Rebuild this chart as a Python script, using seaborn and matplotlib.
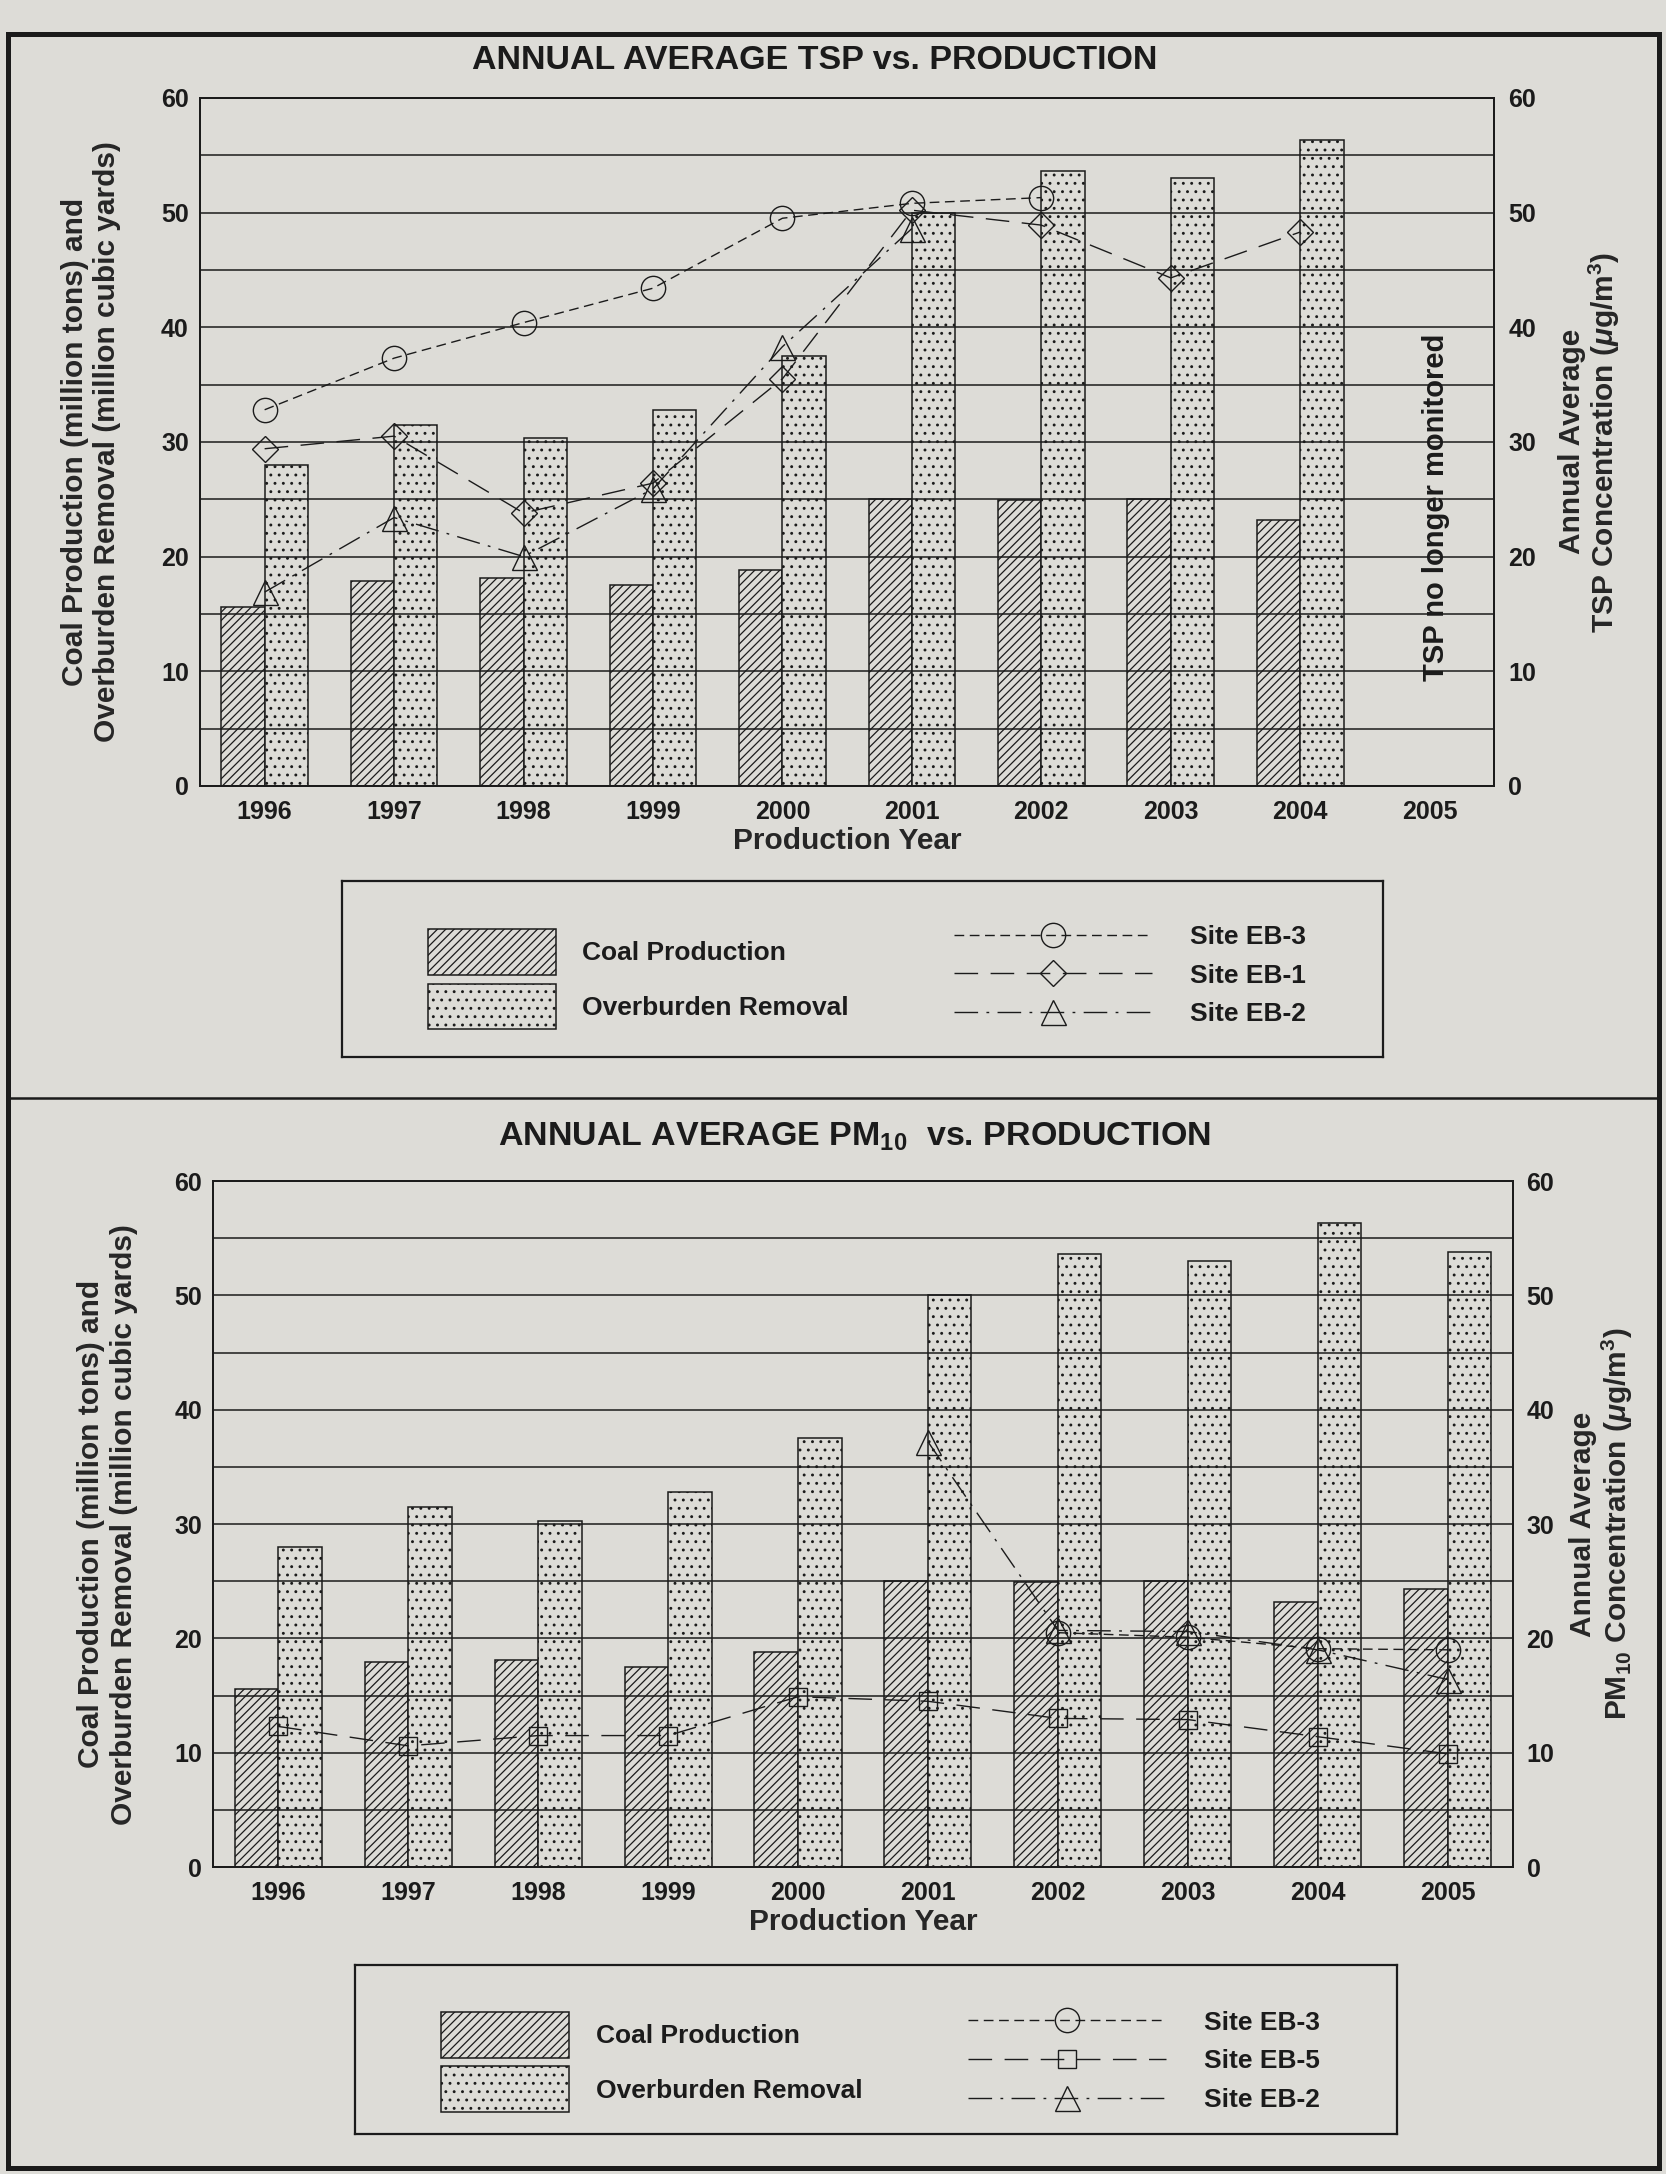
import numpy as np
import pandas as pd
import matplotlib
matplotlib.use("Agg")
import matplotlib.pyplot as plt
from matplotlib.patches import Patch, Rectangle
from matplotlib.lines import Line2D
from matplotlib.ticker import MultipleLocator
import seaborn as sns

nan = np.nan

years = ["1996", "1997", "1998", "1999", "2000", "2001", "2002", "2003", "2004", "2005"]

# Production: coal (million tons) and overburden removal (million cubic yards)
coal_production = [15.6, 17.9, 18.1, 17.5, 18.8, 25.0, 24.9, 25.0, 23.2, 24.3]
overburden_removal = [28.0, 31.5, 30.3, 32.8, 37.5, 50.0, 53.6, 53.0, 56.3, 53.8]
tsp_production_years = ["1996", "1997", "1998", "1999", "2000", "2001", "2002", "2003", "2004"]

# Annual average TSP concentration (ug/m3)
tsp_eb3 = [32.8, 37.3, 40.4, 43.4, 49.5, 50.8, 51.3, nan, nan, nan]
tsp_eb1 = [29.4, 30.5, 23.8, 26.4, 35.5, 50.2, 48.9, 44.3, 48.3, nan]
tsp_eb2 = [16.9, 23.4, 20.0, 25.9, 38.3, 48.6, nan, nan, nan, nan]

# Annual average PM10 concentration (ug/m3)
pm10_eb3 = [nan, nan, nan, nan, nan, nan, 20.5, 20.1, 19.1, 19.0]
pm10_eb5 = [12.3, 10.6, 11.5, 11.5, 14.9, 14.5, 13.0, 12.9, 11.4, 9.9]
pm10_eb2 = [nan, nan, nan, nan, nan, 37.2, 20.7, 20.6, 19.0, 16.4]

measures = ["Coal Production", "Overburden Removal"]

BG = "#dddcd7"
INK = "#1b1b1b"
HATCHES = {"Coal Production": "////", "Overburden Removal": ".."}

SITE_STYLE = {
    "Site EB-3": dict(marker="o", ms=17.5, ls=(0, (7, 4))),
    "Site EB-1": dict(marker="D", ms=13.5, ls=(0, (17, 9))),
    "Site EB-2": dict(marker="^", ms=18, ls=(0, (17, 6, 2, 6))),
    "Site EB-5": dict(marker="s", ms=13.5, ls=(0, (17, 9))),
}

sns.set_style("white")
plt.rcParams.update({
    "font.family": ["Liberation Sans", "DejaVu Sans"],
    "font.weight": "bold",
    "axes.labelweight": "bold",
    "mathtext.fontset": "custom",
    "mathtext.rm": "Liberation Sans:bold",
    "mathtext.bf": "Liberation Sans:bold",
    "mathtext.it": "Liberation Sans:italic:bold",
    "mathtext.sf": "Liberation Sans:bold",
    "hatch.color": INK,
    "hatch.linewidth": 0.9,
    "lines.scale_dashes": False,
    "axes.facecolor": BG,
    "figure.facecolor": BG,
    "axes.edgecolor": INK,
    "text.color": INK,
    "xtick.color": INK,
    "ytick.color": INK,
})

fig = plt.figure(figsize=(16.66, 21.74), dpi=100)


def production_frame(keep_years):
    df = pd.DataFrame({
        "year": years * 2,
        "measure": [measures[0]] * len(years) + [measures[1]] * len(years),
        "value": coal_production + overburden_removal,
    })
    return df[df["year"].isin(keep_years)]


def draw_panel(rect, keep_years, sites, right_label, left_coord, right_coord,
               right_spacing, note=None):
    ax = fig.add_axes(rect)
    sns.barplot(data=production_frame(keep_years), x="year", y="value",
                hue="measure", order=years, hue_order=measures,
                palette={m: BG for m in measures}, saturation=1,
                width=0.67, edgecolor=INK, linewidth=1.1,
                errorbar=None, legend=False, ax=ax)
    for container, m in zip(ax.containers, measures):
        for bar in container:
            bar.set_hatch(HATCHES[m])

    ax.set_ylim(0, 60)
    ax.yaxis.set_major_locator(MultipleLocator(10))
    ax.yaxis.set_minor_locator(MultipleLocator(5))
    ax.grid(axis="y", which="both", color=INK, linewidth=1.1)
    ax.grid(axis="x", visible=False)
    ax.set_axisbelow(False)
    ax.tick_params(axis="both", which="both", length=0, labelsize=18)
    ax.tick_params(axis="y", pad=8)
    ax.tick_params(axis="x", pad=10)
    for s in ax.spines.values():
        s.set_visible(True)
        s.set_linewidth(1.3)
        s.set_color(INK)
    ax.set_xlabel("Production Year", fontsize=21.5, fontweight="bold", labelpad=2)
    ax.set_ylabel("Coal Production (million tons) and\n"
                  "Overburden Removal (million cubic yards)",
                  fontsize=21.5, fontweight="bold", linespacing=1.2)
    ax.yaxis.set_label_coords(left_coord, 0.5)

    if note:
        ax.text(9.05, 24.3, note, rotation=90, ha="center", va="center",
                fontsize=21, fontweight="bold")

    ax2 = ax.twinx()
    for name, values in sites:
        st = SITE_STYLE[name]
        sns.pointplot(x=years, y=values, order=years, color=INK,
                      markers=st["marker"], linestyles=st["ls"],
                      errorbar=None, markersize=st["ms"], linewidth=1.0,
                      markerfacecolor="none", markeredgecolor=INK,
                      markeredgewidth=1.0, ax=ax2)
    ax2.set_ylim(0, 60)
    ax2.yaxis.set_major_locator(MultipleLocator(10))
    ax2.grid(False)
    ax2.tick_params(axis="y", length=0, labelsize=18, pad=10)
    ax2.set_ylabel(right_label, fontsize=21.5, fontweight="bold",
                   linespacing=right_spacing)
    ax2.yaxis.set_label_coords(right_coord, 0.5)
    for s in ax2.spines.values():
        s.set_linewidth(1.3)
        s.set_color(INK)
    for lab in ax.get_xticklabels() + ax.get_yticklabels() + ax2.get_yticklabels():
        lab.set_fontweight("bold")
    return ax


def site_handle(name):
    st = SITE_STYLE[name]
    return Line2D([], [], color=INK, linewidth=1.0, linestyle=st["ls"],
                  marker=st["marker"], markersize=st["ms"],
                  markerfacecolor="none", markeredgecolor=INK,
                  markeredgewidth=1.0, label=name)


def draw_key(rect, site_names, bars_y, sites_y):
    lax = fig.add_axes(rect)
    lax.set_xticks([])
    lax.set_yticks([])
    lax.set_facecolor(BG)
    for s in lax.spines.values():
        s.set_visible(True)
        s.set_linewidth(1.6)
        s.set_color(INK)
    bar_handles = [Patch(facecolor=BG, edgecolor=INK, hatch=HATCHES[m],
                         linewidth=1.1, label=m) for m in measures]
    prop = {"size": 19, "weight": "bold"}
    leg1 = lax.legend(handles=bar_handles, loc="center left",
                      bbox_to_anchor=(0.083, bars_y), frameon=False, prop=prop,
                      handlelength=4.85, handleheight=2.3, labelspacing=0.32,
                      handletextpad=1.0, borderpad=0, borderaxespad=0)
    lax.add_artist(leg1)
    lax.legend(handles=[site_handle(n) for n in site_names], loc="center left",
               bbox_to_anchor=(0.588, sites_y), frameon=False, prop=prop,
               handlelength=7.5, handletextpad=1.45, labelspacing=0.56,
               numpoints=1, borderpad=0, borderaxespad=0)


# Upper panel: TSP
draw_panel([0.120, 0.6385, 0.777, 0.3165], tsp_production_years,
           [("Site EB-3", tsp_eb3), ("Site EB-1", tsp_eb1), ("Site EB-2", tsp_eb2)],
           "Annual Average\nTSP Concentration ($\\mu$g/m$^3$)",
           left_coord=-0.061, right_coord=1.049, right_spacing=1.05,
           note="TSP no longer monitored")
fig.text(0.489, 0.9724, "ANNUAL AVERAGE TSP vs. PRODUCTION",
         ha="center", va="center", fontsize=24.5, fontweight="bold")
draw_key([0.205, 0.5138, 0.625, 0.081], ["Site EB-3", "Site EB-1", "Site EB-2"],
         bars_y=0.441, sites_y=0.462)

# Lower panel: PM10
draw_panel([0.128, 0.1412, 0.780, 0.3155], years,
           [("Site EB-3", pm10_eb3), ("Site EB-5", pm10_eb5), ("Site EB-2", pm10_eb2)],
           "Annual Average\nPM$_{10}$ Concentration ($\\mu$g/m$^3$)",
           left_coord=-0.058, right_coord=1.0435, right_spacing=1.1)
fig.text(0.5132, 0.4770, "ANNUAL AVERAGE PM$_{10}$  vs. PRODUCTION",
         ha="center", va="center", fontsize=24.5, fontweight="bold")
draw_key([0.213, 0.0184, 0.6255, 0.0777], ["Site EB-3", "Site EB-5", "Site EB-2"],
         bars_y=0.425, sites_y=0.43)

# Page frame and panel divider
fig.add_artist(Rectangle((0.005, 0.0028), 0.991, 0.9816, transform=fig.transFigure,
                         fill=False, edgecolor=INK, linewidth=3.6))
fig.add_artist(Line2D([0.005, 0.996], [0.4949, 0.4949], transform=fig.transFigure,
                      color=INK, linewidth=1.8))

fig.savefig("out.png", dpi=100, facecolor=BG)
